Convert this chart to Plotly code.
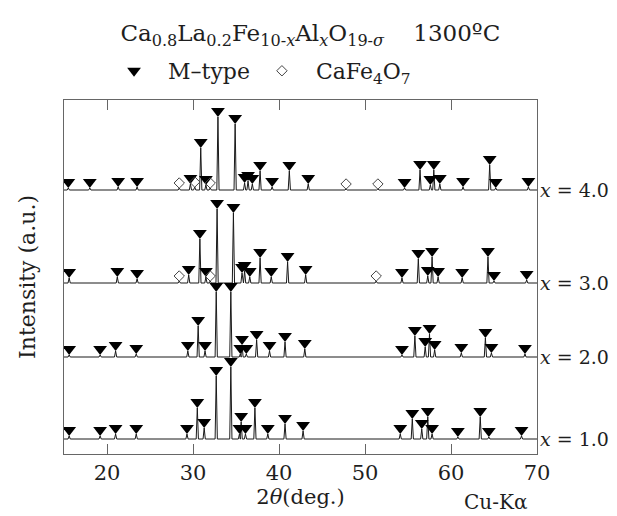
import plotly.graph_objects as go

# ---------------- data ----------------
x_range = [15, 70]
tick_vals = [20, 30, 40, 50, 60, 70]
sample_labels = ["<i>x</i> = 1.0", "<i>x</i> = 2.0", "<i>x</i> = 3.0", "<i>x</i> = 4.0"]
offsets = [15, 97, 171, 264]  # vertical offset of each pattern (a.u.)

# x = 1.0
x1_angle = [15.6, 19.2, 21.0, 23.4, 29.3, 30.5, 31.3, 32.7, 34.4, 35.4, 35.6, 36.1, 37.2, 38.7, 40.7, 42.8,
            54.1, 55.5, 56.6, 57.3, 57.8, 60.8, 63.4, 64.4, 68.2]
x1_height = [3, 3, 5, 5, 5, 31, 11, 63, 72, 5, 17, 5, 31, 5, 15, 8,
             5, 20, 10, 22, 5, 2, 22, 2, 3]
x1_phase = ["M"] * 25

# x = 2.0
x2_angle = [15.6, 19.2, 21.0, 23.4, 29.4, 30.6, 31.4, 32.7, 34.4, 35.5, 35.7, 36.2, 37.4, 38.9, 40.7, 43.0,
            54.3, 55.8, 57.0, 57.5, 58.1, 61.2, 64.0, 64.7, 68.6]
x2_height = [2, 2, 6, 3, 6, 31, 6, 65, 65, 3, 12, 3, 17, 6, 15, 8,
             2, 21, 10, 23, 7, 4, 19, 4, 3]
x2_phase = ["M"] * 25

# x = 3.0
x3_angle = [15.6, 21.2, 23.5, 28.4, 29.5, 30.8, 31.5, 32.0, 32.8, 34.7, 35.7, 36.0, 36.6, 37.8, 39.1, 41.0, 43.1,
            51.3, 54.3, 56.2, 57.3, 57.8, 58.5, 61.3, 64.3, 65.0, 68.8]
x3_height = [5, 6, 4, 2, 8, 44, 6, 2, 74, 70, 10, 12, 6, 25, 6, 21, 8,
             2, 5, 24, 7, 26, 6, 5, 26, 2, 3]
x3_phase = ["M", "M", "M", "C", "M", "M", "M", "C", "M", "M", "M", "M", "M", "M", "M", "M", "M",
            "C", "M", "M", "M", "M", "M", "M", "M", "M", "M"]

# x = 4.0
x4_angle = [15.5, 18.0, 21.3, 23.5, 28.4, 29.7, 30.2, 30.9, 31.5, 32.0, 32.9, 34.9, 36.0, 36.4, 36.9, 37.8, 39.2,
            41.2, 43.4, 47.8, 51.5, 54.6, 56.4, 57.6, 58.0, 58.7, 61.4, 64.5, 65.2, 69.0]
x4_height = [2, 2, 3, 3, 2, 6, 3, 42, 5, 2, 73, 66, 7, 9, 6, 19, 3,
             19, 6, 1, 1, 2, 20, 5, 20, 6, 3, 25, 2, 3]
x4_phase = ["M", "M", "M", "M", "C", "M", "C", "M", "M", "C", "M", "M", "M", "M", "M", "M", "M",
            "M", "M", "C", "C", "M", "M", "M", "M", "M", "M", "M", "M", "M"]

patterns = [
    (x1_angle, x1_height, x1_phase),
    (x2_angle, x2_height, x2_phase),
    (x3_angle, x3_height, x3_phase),
    (x4_angle, x4_height, x4_phase),
]

SERIF = "DejaVu Serif, Liberation Serif, serif"
TXT = "#1e1e1e"
HALF_W = 0.13       # half-width of each drawn peak (deg)
TRI_OFF = 6         # marker lift above peak top
DIA_OFF = 5

fig = go.Figure()

m_x, m_y, c_x, c_y = [], [], [], []
for (ang, hgt, ph), off in zip(patterns, offsets):
    xs, ys = [x_range[0]], [off]
    for a, h, p in sorted(zip(ang, hgt, ph)):
        xs += [a - HALF_W, a, a + HALF_W]
        ys += [off, off + h, off]
        if p == "M":
            m_x.append(a); m_y.append(off + h + TRI_OFF)
        else:
            c_x.append(a); c_y.append(off + h + DIA_OFF)
    xs.append(x_range[1]); ys.append(off)
    fig.add_trace(go.Scatter(x=xs, y=ys, mode="lines", line=dict(color="#1a1a1a", width=1),
                             showlegend=False, hoverinfo="skip"))

fig.add_trace(go.Scatter(x=m_x, y=m_y, mode="markers", name="&nbsp;&nbsp;M\u2013type&nbsp;",
                         marker=dict(symbol="triangle-down", size=12, color="black")))
fig.add_trace(go.Scatter(x=c_x, y=c_y, mode="markers", name="&nbsp;&nbsp;CaFe<sub>4</sub>O<sub>7</sub>",
                         marker=dict(symbol="diamond-open", size=8, color="#444", line=dict(width=1))))

for lab, off in zip(sample_labels, offsets):
    fig.add_annotation(x=1.0, xref="paper", y=off, yref="y", text=lab, showarrow=False,
                       xanchor="left", xshift=1, font=dict(family=SERIF, size=19, color=TXT))

fig.add_annotation(x=0.912, xref="paper", y=-0.137, yref="paper", text="Cu-K\u03b1", showarrow=False,
                   xanchor="center", yanchor="middle", font=dict(family=SERIF, size=20, color=TXT))

fig.update_layout(
    width=617, height=516,
    margin=dict(l=56, r=88, t=92, b=70),
    paper_bgcolor="white", plot_bgcolor="white",
    title=dict(text="Ca<sub>0.8</sub>La<sub>0.2</sub>Fe<sub>10-<i>x</i></sub>Al<sub><i>x</i></sub>O<sub>19-<i>\u03c3</i></sub>&nbsp;&nbsp;&nbsp;&nbsp;1300\u00baC",
               x=0.49, xanchor="center", y=0.952, yanchor="middle",
               font=dict(family=SERIF, size=23, color=TXT)),
    legend=dict(orientation="h", x=0.425, xanchor="center", y=1.082, yanchor="middle",
                font=dict(family=SERIF, size=22, color=TXT), bgcolor="rgba(0,0,0,0)"),
    xaxis=dict(range=x_range, tickvals=tick_vals, ticks="inside", ticklen=10, tickcolor="#666",
               showline=True, linecolor="#666", linewidth=1, mirror="ticks", showgrid=False, zeroline=False,
               tickfont=dict(family=SERIF, size=21, color=TXT),
               title=dict(text="2<i>\u03b8</i>(deg.)", font=dict(family=SERIF, size=21, color=TXT), standoff=4)),
    yaxis=dict(range=[0, 354], showticklabels=False, ticks="", showline=True, linecolor="#666", linewidth=1,
               mirror=True, showgrid=False, zeroline=False,
               title=dict(text="Intensity (a.u.)", font=dict(family=SERIF, size=22, color=TXT), standoff=21)),
    showlegend=True,
)

fig.write_html("out.html")
